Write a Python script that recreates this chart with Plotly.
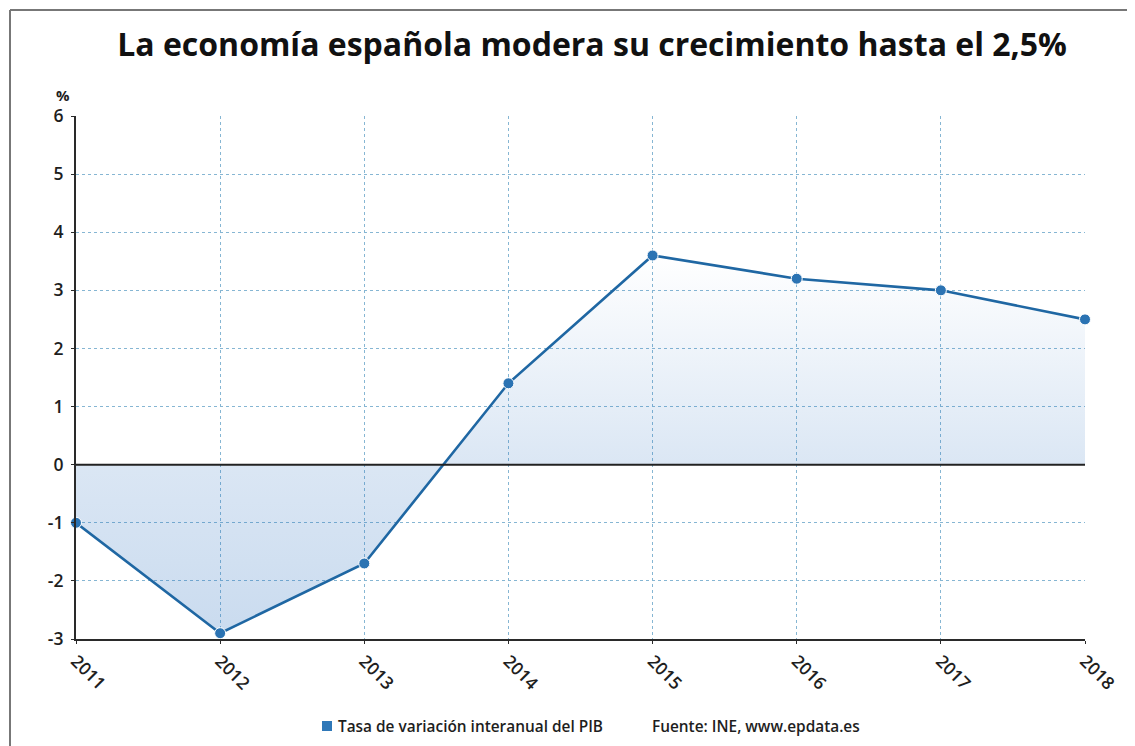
import plotly.graph_objects as go

years = [2011, 2012, 2013, 2014, 2015, 2016, 2017, 2018]
pib = [-1.0, -2.9, -1.7, 1.4, 3.6, 3.2, 3.0, 2.5]
y_ticks = [-3, -2, -1, 0, 1, 2, 3, 4, 5, 6]
y_ticktext = ["-3", "-2", "-1", "0", "1", "2", "3", "4", "5", "6"]

title_text = "La economía española modera su crecimiento hasta el 2,5%"
series_name = "Tasa de variación interanual del PIB"
source_text = "Fuente: INE, www.epdata.es"

W, H = 1135, 746
OFF = 8  # page body offset in the screenshot
# target plot area in screenshot pixels: x 76..1085, y 116..639
L = 76 - OFF
T = 116 - OFF
R = W - (1085 - OFF)
B = H - (639 - OFF)
pw, ph = W - L - R, H - T - B

def px_x(p):
    return (p - OFF - L) / pw

def px_y(p):
    return (H - B - (p - OFF)) / ph

FONT = "Open Sans"
DARK = "#1e1e1e"
LINE = "#1f67a3"

fig = go.Figure()
fig.add_trace(go.Scatter(
    x=years, y=pib, mode="lines+markers", name=series_name,
    line=dict(color=LINE, width=2.6),
    marker=dict(size=11, color="#2b73b3", line=dict(color="white", width=1)),
    fill="tozeroy",
    fillgradient=dict(type="vertical", start=-3, stop=3.6,
                      colorscale=[[0, "rgba(40,110,190,0.25)"],
                                  [0.45, "rgba(40,110,190,0.17)"],
                                  [1, "rgba(40,110,190,0.0)"]]),
    cliponaxis=False, showlegend=False,
))

fig.update_layout(
    width=W, height=H,
    margin=dict(l=L, r=R, t=T, b=B),
    paper_bgcolor="white", plot_bgcolor="white",
    font=dict(family=FONT, color=DARK),
    title=dict(text=title_text, x=(592 - OFF) / W, xanchor="center", xref="container",
               y=1 - (45 - OFF) / H, yanchor="middle", yref="container",
               font=dict(family=FONT, size=32, weight=700, color="#111")),
    showlegend=False,
)

fig.update_xaxes(
    range=[2011, 2018], tickmode="array", tickvals=years, ticktext=[str(y) for y in years],
    tickangle=45, tickfont=dict(size=17.5, family=FONT, weight=600, color=DARK),
    showgrid=True, gridcolor="#86b6d3", griddash="dot", gridwidth=1,
    showline=True, linecolor="#2a2a2a", linewidth=2,
    ticks="outside", ticklen=3, tickcolor="#2a2a2a", zeroline=False,
)
fig.update_yaxes(
    range=[-3, 6], tickmode="array", tickvals=y_ticks, ticktext=y_ticktext,
    tickfont=dict(size=17.5, family=FONT, weight=600, color=DARK),
    showgrid=True, gridcolor="#86b6d3", griddash="dot", gridwidth=1,
    showline=True, linecolor="#2a2a2a", linewidth=2,
    ticks="outside", ticklen=3, tickcolor="#2a2a2a",
    ticklabelstandoff=4,
    zeroline=False,
)

# zero reference line above the fill
fig.add_shape(type="line", xref="paper", yref="y", x0=0, x1=1, y0=0, y1=0,
              line=dict(color="#222", width=2), layer="above")

# "%" unit label
fig.add_annotation(text="%", x=px_x(63), y=px_y(95), xref="paper", yref="paper",
                   showarrow=False, xanchor="center", yanchor="middle",
                   font=dict(size=15, family=FONT, weight=700, color=DARK))

# legend-like footer
fig.add_shape(type="rect", xref="paper", yref="paper",
              x0=px_x(322), x1=px_x(332), y0=px_y(731), y1=px_y(721),
              fillcolor="#2f78b8", line=dict(width=0))
fig.add_annotation(text=series_name, x=px_x(336), y=px_y(726), xref="paper", yref="paper",
                   showarrow=False, xanchor="left", yanchor="middle",
                   font=dict(size=15.4, family=FONT, weight=600, color=DARK))
fig.add_annotation(text=source_text, x=px_x(650), y=px_y(726), xref="paper", yref="paper",
                   showarrow=False, xanchor="left", yanchor="middle",
                   font=dict(size=15.4, family=FONT, weight=600, color=DARK))

# outer frame (left and top edges)
fig.add_shape(type="line", xref="paper", yref="paper",
              x0=px_x(10), x1=px_x(10), y0=px_y(10), y1=px_y(780),
              line=dict(color="#777", width=2))
fig.add_shape(type="line", xref="paper", yref="paper",
              x0=px_x(10), x1=px_x(1160), y0=px_y(10), y1=px_y(10),
              line=dict(color="#777", width=2))

fig.write_html("out.html")
